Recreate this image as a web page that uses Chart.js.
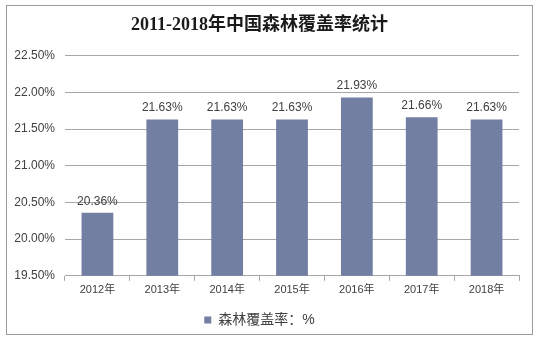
<!DOCTYPE html>
<html>
<head>
<meta charset="utf-8">
<script src="https://cdn.jsdelivr.net/npm/chart.js@4/dist/chart.umd.min.js"></script>
<style>
html,body{margin:0;padding:0;background:#fff;}
#wrap{width:540px;height:340px;position:relative;}
</style>
</head>
<body>
<div id="wrap"><canvas id="c" width="540" height="340"></canvas></div>
<script>
const categories = ["2012年","2013年","2014年","2015年","2016年","2017年","2018年"];
const coverage = [20.36, 21.63, 21.63, 21.63, 21.93, 21.66, 21.63];
const seriesName = "森林覆盖率：%";
const titleText = "2011-2018年中国森林覆盖率统计";
const yMin = 19.5, yMax = 22.5, yStep = 0.5;

const barColor = "#737ea3";
const textColor = "#404040";
const gridColor = "#a6a6a6";
const sansFont = "'Liberation Sans', Arial, 'Noto Sans CJK SC', sans-serif";

const frame = {
  id: 'frame',
  beforeDraw(chart) {
    const ctx = chart.ctx;
    ctx.save();
    ctx.fillStyle = '#fff';
    ctx.fillRect(0, 0, chart.width, chart.height);
    ctx.strokeStyle = '#9a9a9a';
    ctx.lineWidth = 1;
    ctx.strokeRect(6.5, 5.5, 526, 329);
    ctx.restore();
  }
};

const valueLabels = {
  id: 'valueLabels',
  afterDatasetsDraw(chart) {
    const ctx = chart.ctx;
    ctx.save();
    ctx.font = "12px " + sansFont;
    ctx.fillStyle = textColor;
    ctx.textAlign = 'center';
    ctx.textBaseline = 'alphabetic';
    chart.getDatasetMeta(0).data.forEach((bar, i) => {
      ctx.fillText(coverage[i].toFixed(2) + '%', bar.x, bar.y - 8);
    });
    ctx.restore();
  }
};

new Chart(document.getElementById('c'), {
  type: 'bar',
  data: {
    labels: categories,
    datasets: [{
      label: seriesName,
      data: coverage,
      backgroundColor: barColor,
      borderWidth: 0,
      barPercentage: 0.49,
      categoryPercentage: 1.0
    }]
  },
  options: {
    responsive: false,
    animation: false,
    devicePixelRatio: 1,
    layout: { padding: { left: 0, right: 21, top: 0, bottom: 3 } },
    plugins: {
      title: {
        display: true,
        text: titleText,
        color: '#1a1a1a',
        font: { family: "'Liberation Serif', 'Noto Sans CJK SC', serif", size: 18, weight: 'bold' },
        padding: { top: 15, bottom: 19 }
      },
      legend: {
        display: true,
        position: 'bottom',
        labels: {
          boxWidth: 7,
          boxHeight: 7,
          color: textColor,
          font: { family: sansFont, size: 14 },
          padding: 8
        }
      },
      tooltip: { enabled: false }
    },
    scales: {
      x: {
        offset: true,
        grid: { display: true, drawOnChartArea: false, offset: true, tickLength: 5, color: gridColor },
        border: { display: true, color: gridColor },
        afterFit(axis) { axis.height += 5; },
        ticks: { color: textColor, font: { family: sansFont, size: 11 }, padding: 3, maxRotation: 0 }
      },
      y: {
        min: yMin,
        max: yMax,
        grid: { color: gridColor, drawTicks: false },
        border: { display: false },
        afterFit(axis) { axis.width = 65; },
        ticks: {
          stepSize: yStep,
          color: textColor,
          padding: 10,
          font: { family: sansFont, size: 12 },
          callback: v => v.toFixed(2) + '%'
        }
      }
    }
  },
  plugins: [frame, valueLabels]
});
</script>
</body>
</html>
